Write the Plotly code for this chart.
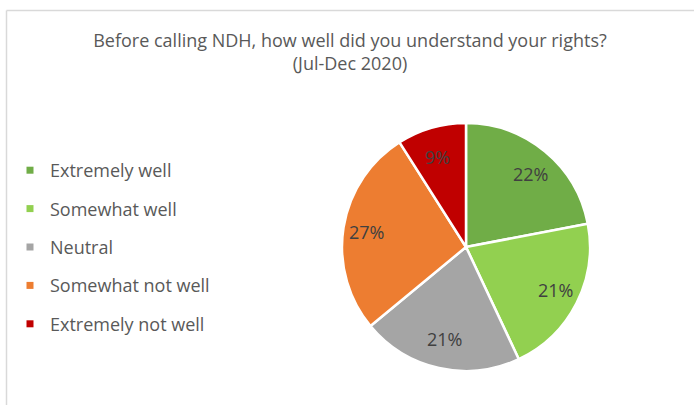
import math
import plotly.graph_objects as go

# Survey responses, Jul-Dec 2020
categories = ["Extremely well", "Somewhat well", "Neutral", "Somewhat not well", "Extremely not well"]
shares = [22, 21, 21, 27, 9]
colors = ["#70AD47", "#92D050", "#A5A5A5", "#ED7D31", "#C00000"]

W, H = 694, 405
TEXT = "#595959"
FONT = "Open Sans"

# pie geometry in pixels
CX, CY, R = 466, 247, 124
LABEL_RX, LABEL_RY = 0.81, 0.76

fig = go.Figure()

fig.add_trace(go.Pie(
    labels=categories,
    values=shares,
    sort=False,
    direction="clockwise",
    rotation=0,
    marker=dict(colors=colors, line=dict(color="white", width=2.5)),
    textinfo="none",
    hoverinfo="label+percent",
    showlegend=False,
    domain=dict(x=[(CX - R) / W, (CX + R) / W], y=[(H - CY - R) / H, (H - CY + R) / H]),
))

# percentage labels at each slice's mid-angle (clockwise from 12 o'clock)
total = sum(shares)
cum = 0
annotations = []
for v in shares:
    mid = (cum + v / 2) / total * 2 * math.pi
    cum += v
    px = CX + LABEL_RX * R * math.sin(mid)
    py = CY - LABEL_RY * R * math.cos(mid)
    annotations.append(dict(
        x=px / W, y=1 - py / H, xref="paper", yref="paper",
        xanchor="center", yanchor="middle",
        text=f"{v}%", showarrow=False,
        font=dict(family=FONT, size=18, color="#404040"),
    ))

# Legend entries, one group each so the rows can be spaced apart
for name, col in zip(categories, colors):
    fig.add_trace(go.Scatter(
        x=[None], y=[None], mode="markers", name=name,
        legendgroup=name,
        marker=dict(symbol="square", size=7, color=col),
    ))

fig.update_layout(
    width=W, height=H,
    margin=dict(l=0, r=0, t=0, b=0),
    paper_bgcolor="white",
    plot_bgcolor="white",
    xaxis=dict(visible=False),
    yaxis=dict(visible=False),
    title=dict(
        text="Before calling NDH, how well did you understand your rights?<br>(Jul-Dec 2020)",
        x=350 / W, xanchor="center",
        y=1 - 47 / H, yanchor="top",
        font=dict(family=FONT, size=18, color=TEXT),
    ),
    legend=dict(
        x=10 / W, xanchor="left",
        y=1 - 152 / H, yanchor="top",
        font=dict(family=FONT, size=18, color=TEXT),
        tracegroupgap=12,
        itemsizing="trace",
        bgcolor="rgba(0,0,0,0)",
    ),
    annotations=annotations,
    shapes=[
        dict(type="line", xref="paper", yref="paper",
             x0=6.5 / W, x1=6.5 / W, y0=0, y1=1 - 10.5 / H,
             line=dict(color="#D9D9D9", width=1.5)),
        dict(type="line", xref="paper", yref="paper",
             x0=6.5 / W, x1=1, y0=1 - 10.5 / H, y1=1 - 10.5 / H,
             line=dict(color="#D9D9D9", width=1.5)),
    ],
)

fig.write_html("out.html")
